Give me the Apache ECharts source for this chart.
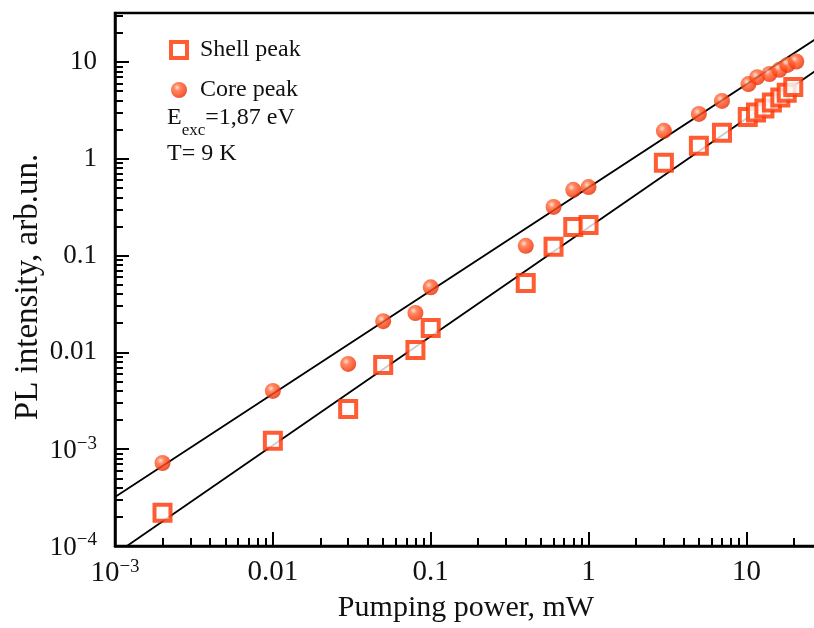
<!DOCTYPE html>
<html>
<head>
<meta charset="utf-8">
<script src="https://cdn.jsdelivr.net/npm/echarts@6/dist/echarts.min.js"></script>
<style>
  html, body { margin: 0; padding: 0; background: #fff; }
  #chart { width: 814px; height: 628px; }
</style>
</head>
<body>
<div id="chart"></div>
<script>
// Core peak (circles)
const corePower = [0.002, 0.01, 0.03, 0.05, 0.08, 0.1, 0.4, 0.6, 0.8, 1, 3, 5, 7, 10.3, 11.7, 14, 16.2, 18.2, 20.7]
const coreValues = [7.2e-4, 0.004, 0.0076, 0.021, 0.0255, 0.047, 0.126, 0.318, 0.477, 0.51, 1.94, 2.9, 3.95, 5.9, 6.95, 7.5, 8.3, 9.3, 10.1]
// Shell peak (squares)
const shellPower = [0.002, 0.01, 0.03, 0.05, 0.08, 0.1, 0.4, 0.6, 0.8, 1, 3, 5, 7, 10.2, 11.5, 13, 14.5, 16.4, 18, 19.8]
const shellValues = [2.2e-4, 1.22e-3, 2.6e-3, 0.0074, 0.0106, 0.0179, 0.052, 0.123, 0.197, 0.207, 0.91, 1.36, 1.85, 2.7, 3.0, 3.3, 3.8, 4.3, 4.8, 5.5]
// fitted lines (end points)
const coreFitX = [0.001, 28]
const coreFitY = [3.2e-4, 17.6]
const shellFitX = [0.00119, 28]
const shellFitY = [1e-4, 8.3]
// ticks
const xMajor = [0.001, 0.01, 0.1, 1, 10]
const yMajor = [1e-4, 1e-3, 0.01, 0.1, 1, 10]
const minorOf = (decades, max) => {
  const out = []
  decades.forEach((d) => {
    for (let k = 2; k <= 9; k++) {
      const v = +(d * k).toPrecision(3)
      if (v <= max) out.push(v)
    }
  })
  return out
}
const xMinor = minorOf(xMajor, 28)
const yMinor = minorOf(yMajor, 32)

const FONT = 'Liberation Serif'
const RED = '#ff3300'

const powLabel = (v) => {
  if (v >= 0.01) return String(v)
  const e = Math.round(Math.log10(v))
  return '{b|10}{s|\u2212' + Math.abs(e) + '}'
}
const richPow = (size) => ({
  b: { fontFamily: FONT, fontSize: size, color: '#111', lineHeight: 30, verticalAlign: 'bottom' },
  s: { fontFamily: FONT, fontSize: 19, color: '#111', lineHeight: 16, verticalAlign: 'top' },
})
// ticks drawn inward (negative length)
const tick = (values, len) => ({
  show: true, inside: false, length: -len, customValues: values,
  lineStyle: { color: '#000', width: 2 },
})

const pairs = (xs, ys) => xs.map((x, i) => [x, ys[i]])

const ball = {
  type: 'radial', x: 0.38, y: 0.35, r: 0.7,
  colorStops: [
    { offset: 0, color: '#ffd8c8' },
    { offset: 0.3, color: '#ff6a3a' },
    { offset: 0.7, color: '#ff3d10' },
    { offset: 1, color: '#d82800' },
  ],
}

const myChart = echarts.init(document.getElementById('chart'))

const options = {
  animation: false,
  backgroundColor: '#fff',
  grid: {
    left: 115, right: -3, top: 13, bottom: 82,
    show: true, borderColor: '#000', borderWidth: 2.5,
    outerBoundsMode: 'none',
  },
  legend: {
    orient: 'vertical',
    left: 164,
    top: 33,
    itemWidth: 16,
    itemHeight: 16,
    itemGap: 16,
    textStyle: { fontFamily: FONT, fontSize: 24, color: '#111', padding: [0, 0, 0, 8] },
    data: [
      { name: 'Shell peak', itemStyle: { color: '#fff', borderColor: RED, borderWidth: 4 } },
      { name: 'Core peak' },
    ],
  },
  xAxis: [
    {
      type: 'log', min: 0.001, max: 28, position: 'bottom',
      name: 'Pumping power, mW', nameLocation: 'middle', nameGap: 47,
      nameMoveOverlap: false,
      nameTextStyle: { fontFamily: FONT, fontSize: 30, color: '#111' },
      axisLine: { lineStyle: { color: '#000', width: 2.5 } },
      axisTick: tick(xMajor, 14),
      axisLabel: {
        customValues: xMajor, margin: 12, formatter: powLabel,
        fontFamily: FONT, fontSize: 29, color: '#111', rich: richPow(29),
      },
      splitLine: { show: false },
    },
    {
      type: 'log', min: 0.001, max: 28, position: 'bottom',
      axisLine: { show: false },
      axisTick: tick(xMinor, 8),
      axisLabel: { show: false },
      splitLine: { show: false },
    },
  ],
  yAxis: [
    {
      type: 'log', min: 1e-4, max: 32, position: 'left',
      name: 'PL intensity, arb.un.', nameLocation: 'middle', nameGap: 70,
      nameMoveOverlap: false,
      nameTextStyle: { fontFamily: FONT, fontSize: 33, color: '#111', padding: [0, 15, 0, 0] },
      axisLine: { lineStyle: { color: '#000', width: 2.5 } },
      axisTick: tick(yMajor, 14),
      axisLabel: {
        customValues: yMajor, margin: 18, formatter: powLabel,
        fontFamily: FONT, fontSize: 27, color: '#111', rich: richPow(27),
      },
      splitLine: { show: false },
    },
    {
      type: 'log', min: 1e-4, max: 32, position: 'left',
      axisLine: { show: false },
      axisTick: tick(yMinor, 8),
      axisLabel: { show: false },
      splitLine: { show: false },
    },
  ],
  graphic: [
    {
      type: 'text', left: 167, top: 106,
      style: {
        text: '{n|E}{s|exc}{n|=1,87 eV}',
        rich: {
          n: { fontFamily: FONT, fontSize: 24, fill: '#111', lineHeight: 28, verticalAlign: 'top' },
          s: { fontFamily: FONT, fontSize: 17, fill: '#111', lineHeight: 16, padding: [16, 0, 0, 0], verticalAlign: 'top' },
        },
      },
    },
    {
      type: 'text', left: 167, top: 142,
      style: { text: 'T= 9 K', fontFamily: FONT, fontSize: 24, fill: '#111' },
    },
  ],
  series: [
    {
      name: 'Core fit', type: 'line', showSymbol: false, silent: true,
      lineStyle: { color: '#000', width: 1.8 },
      data: pairs(coreFitX, coreFitY), z: 1,
    },
    {
      name: 'Shell fit', type: 'line', showSymbol: false, silent: true,
      lineStyle: { color: '#000', width: 1.8 },
      data: pairs(shellFitX, shellFitY), z: 1,
    },
    {
      name: 'Shell peak', type: 'scatter', symbol: 'rect', symbolSize: 16,
      itemStyle: { color: '#fff', borderColor: RED, borderWidth: 4 },
      data: pairs(shellPower, shellValues), z: 3,
    },
    {
      name: 'Core peak', type: 'scatter', symbol: 'circle', symbolSize: 16,
      itemStyle: { color: ball },
      data: pairs(corePower, coreValues), z: 4,
    },
  ],
}
myChart.setOption(options)
</script>
</body>
</html>
